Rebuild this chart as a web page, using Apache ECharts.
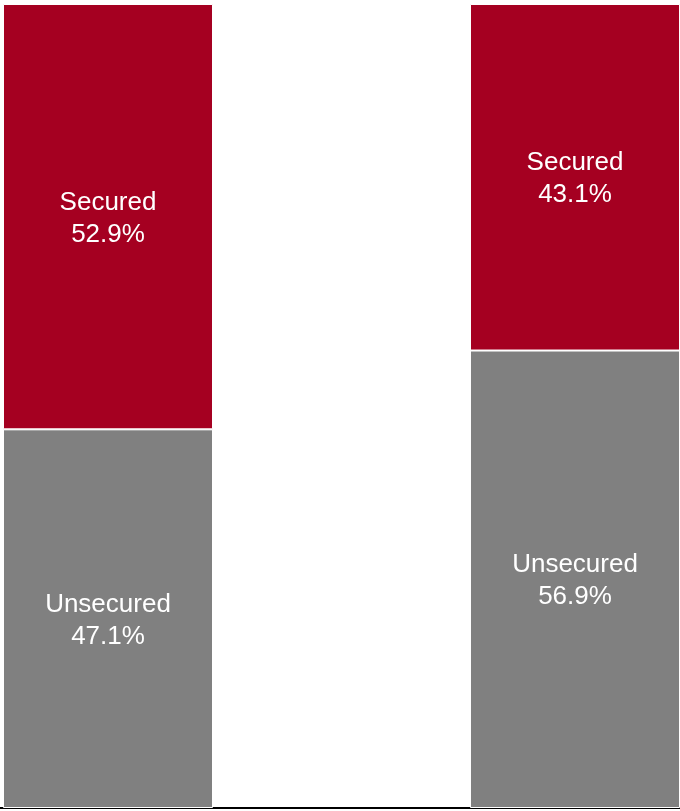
<!DOCTYPE html>
<html>
<head>
<meta charset="utf-8">
<script src="https://cdn.jsdelivr.net/npm/echarts@6/dist/echarts.min.js"></script>
<style>
  html, body { margin: 0; padding: 0; background: #fff; }
  #chart { width: 680px; height: 811px; }
</style>
</head>
<body>
<div id="chart"></div>
<script>
// Two 100% stacked bars: secured vs. unsecured share
const categories = ['A', 'B'];
const unsecuredValues = [47.1, 56.9];
const securedValues = [52.9, 43.1];

// The two bars sit in the outer slots of a four-slot band, leaving a wide gap
const slots = [categories[0], 'gap1', 'gap2', categories[1]];
const toSlots = vals => [vals[0], null, null, vals[1]];

const chart = echarts.init(document.getElementById('chart'), null, { renderer: 'canvas' });

const labelStyle = {
  show: true,
  position: 'inside',
  offset: [0, 2],
  color: '#ffffff',
  fontFamily: 'Liberation Sans, Arial, sans-serif',
  fontSize: 26,
  lineHeight: 32,
  formatter: p => p.seriesName + '\n' + p.value.toFixed(1) + '%'
};

chart.setOption({
  animation: false,
  backgroundColor: '#ffffff',
  grid: [
    { left: 30.17, width: 622.67, top: 4, bottom: 3 },
    // full-width baseline
    { left: 0, right: 0, top: 4, bottom: 3 }
  ],
  xAxis: [
    {
      type: 'category',
      gridIndex: 0,
      data: slots,
      axisLine: { show: false },
      axisTick: { show: false },
      axisLabel: { show: false }
    },
    {
      type: 'category',
      gridIndex: 1,
      data: [],
      axisLine: { show: true, lineStyle: { color: '#000000', width: 2 } },
      axisTick: { show: false },
      axisLabel: { show: false }
    }
  ],
  yAxis: [
    { type: 'value', gridIndex: 0, min: 0, max: 100, show: false, splitLine: { show: false } },
    { type: 'value', gridIndex: 1, min: 0, max: 100, show: false, splitLine: { show: false } }
  ],
  series: [
    {
      name: 'Unsecured',
      type: 'bar',
      stack: 'total',
      barWidth: 210,
      clip: false,
      data: toSlots(unsecuredValues),
      itemStyle: { color: '#808080', borderColor: '#ffffff', borderWidth: 1 },
      label: labelStyle
    },
    {
      name: 'Secured',
      type: 'bar',
      stack: 'total',
      barWidth: 210,
      clip: false,
      data: toSlots(securedValues),
      itemStyle: { color: '#A50021', borderColor: '#ffffff', borderWidth: 1 },
      label: labelStyle
    }
  ]
});
</script>
</body>
</html>
